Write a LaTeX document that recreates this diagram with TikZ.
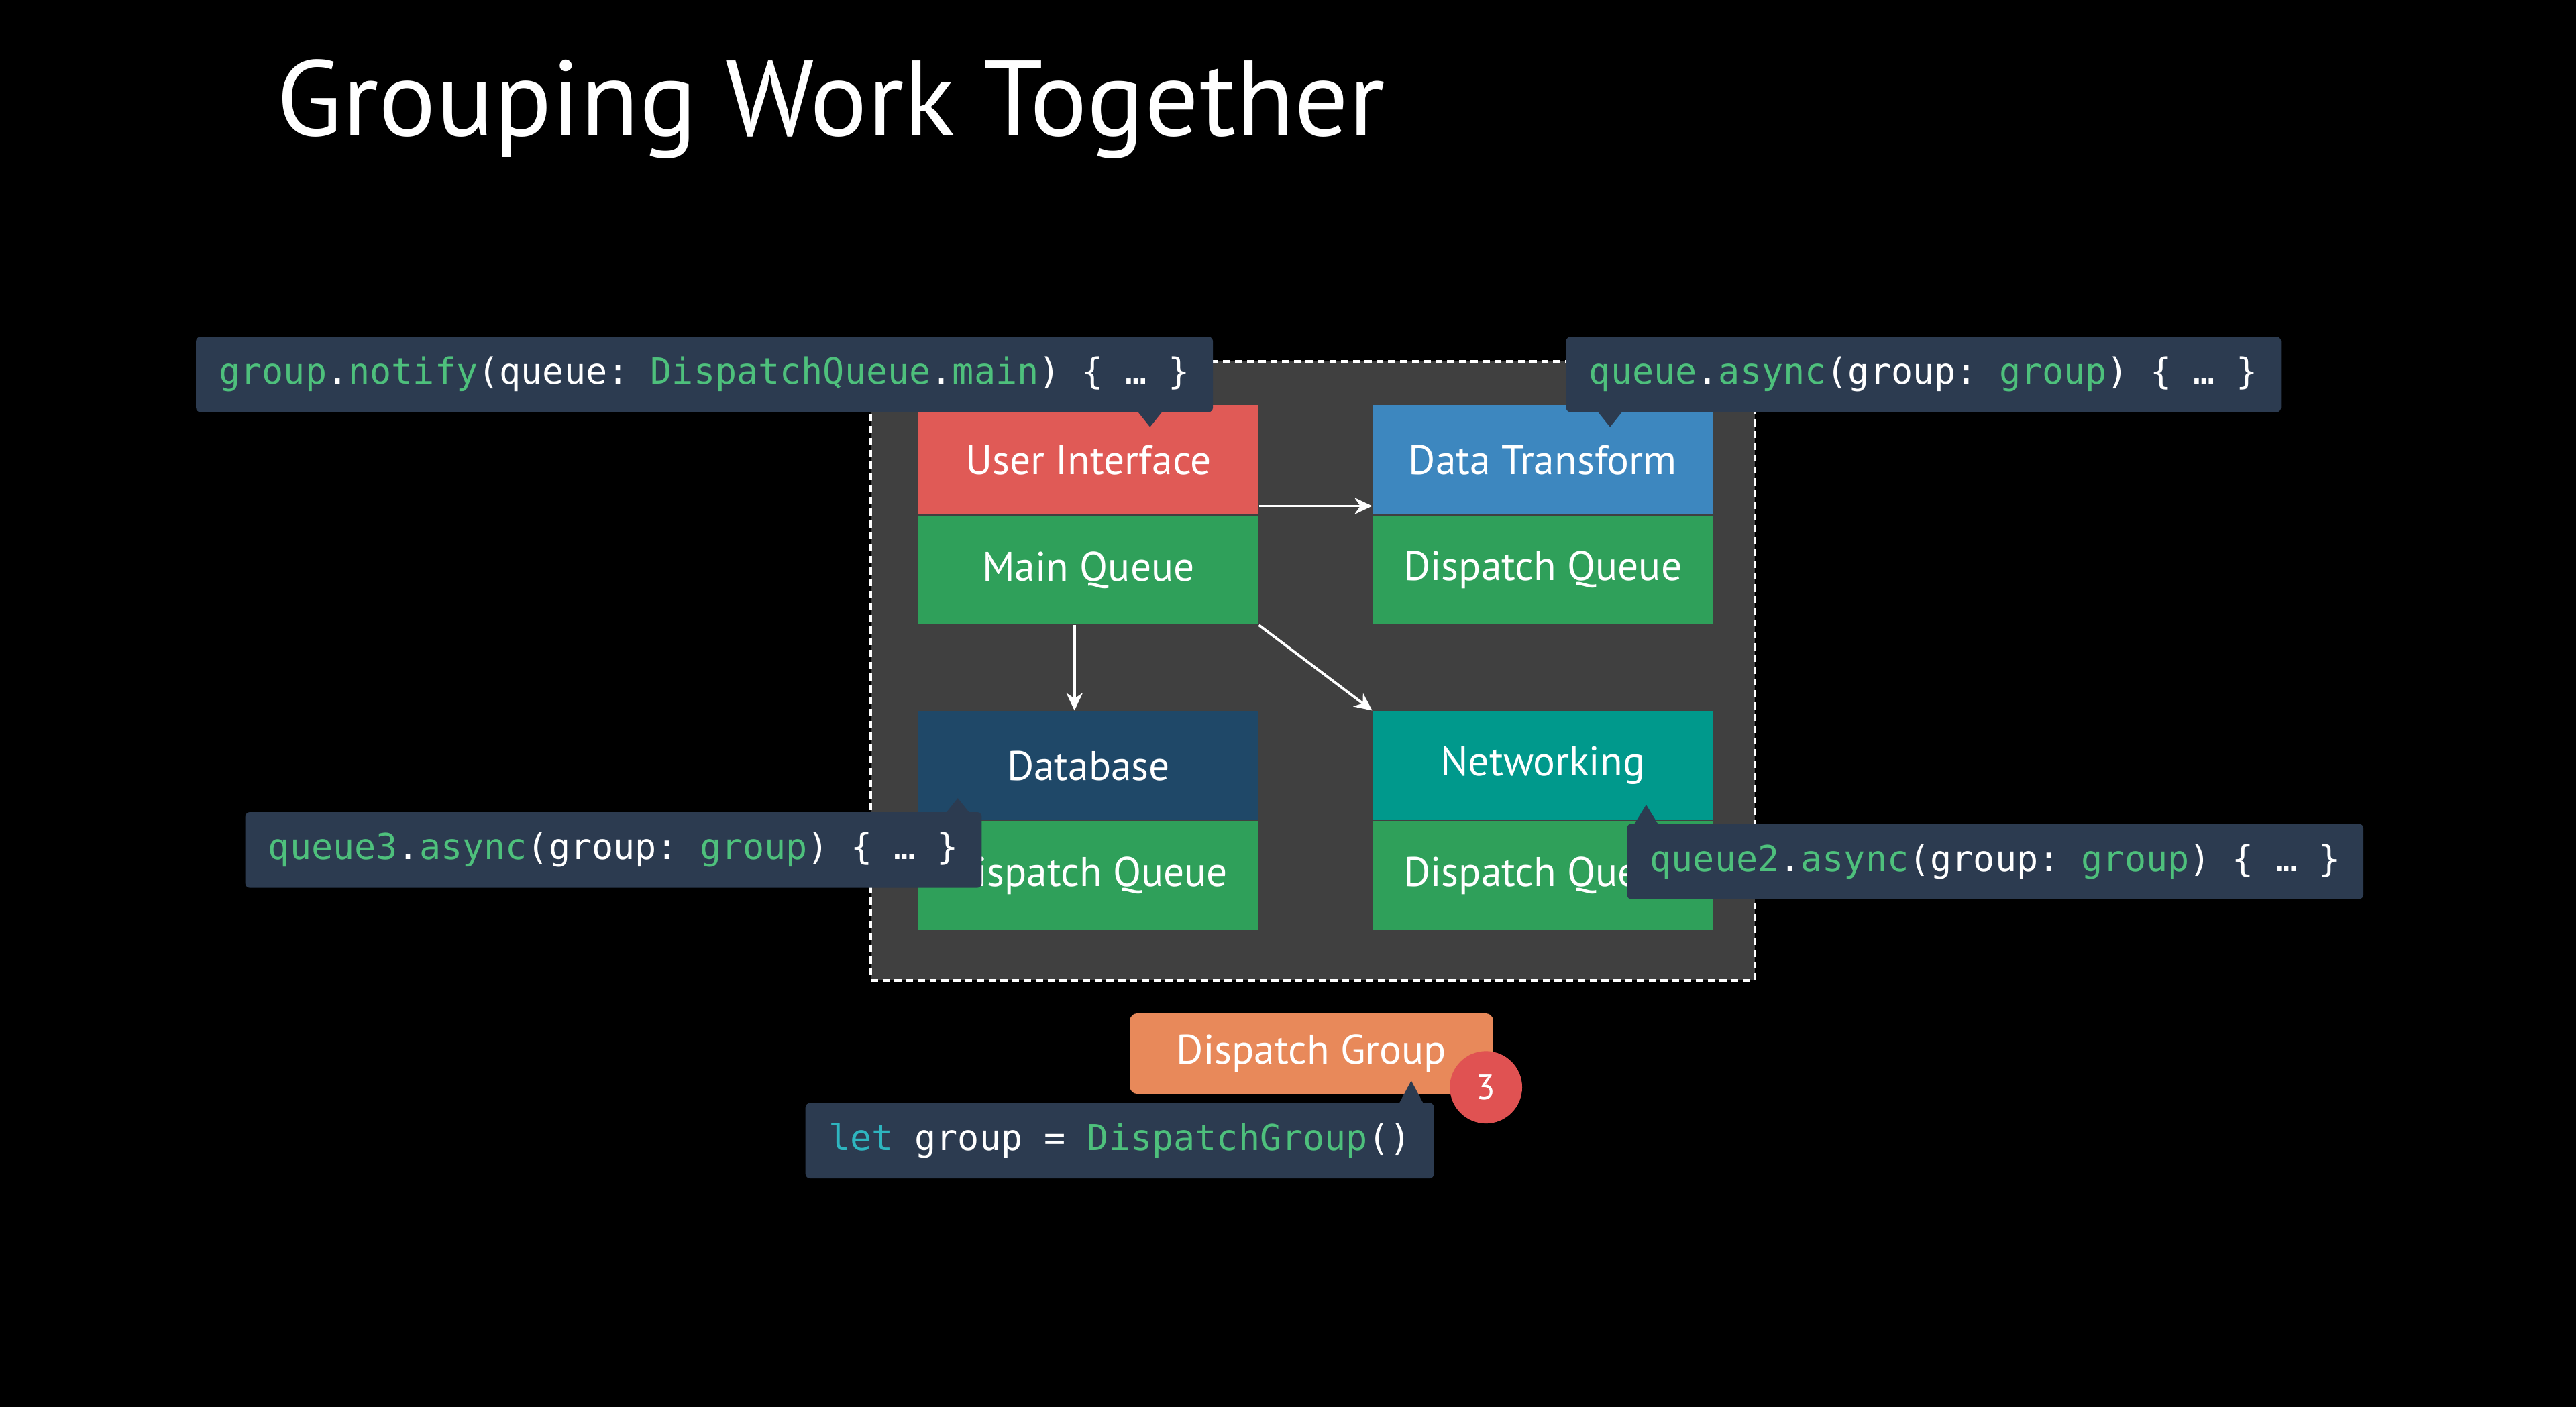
\documentclass[tikz,border=0pt]{standalone}
\usepackage{fontspec}
\setmainfont{PT Sans}
\newfontfamily\codefont{DejaVu Sans Mono}
\usetikzlibrary{positioning,arrows.meta}

\definecolor{uired}{HTML}{E05A56}
\definecolor{qgreen}{HTML}{2FA05A}
\definecolor{dtblue}{HTML}{3D87BF}
\definecolor{dbnavy}{HTML}{1F4868}
\definecolor{netteal}{HTML}{00998C}
\definecolor{slate}{HTML}{2C3B50}
\definecolor{boxgray}{HTML}{404040}
\definecolor{grouporange}{HTML}{E8895A}
\definecolor{badgered}{HTML}{E05252}
\definecolor{codegreen}{HTML}{4EC07C}
\definecolor{codeteal}{HTML}{2EB5BF}

\def\px{0.02449cm}
\newcommand\cg[1]{\textcolor{codegreen}{#1}}
\newcommand\ck[1]{\textcolor{codeteal}{#1}}

\begin{document}
\begin{tikzpicture}[x=\px,y=-\px,>={Stealth[length=7.5pt,width=7pt]}]
    \tikzstyle{lane}=[rectangle,minimum width=5.069cm,minimum height=1.629cm,inner sep=0pt,text=white,font=\fontsize{17.5}{20}\selectfont]
    \tikzstyle{callout}=[rectangle,fill=slate,rounded corners=2pt,minimum height=1.127cm,inner xsep=0.343cm,inner ysep=0pt,text=white,font=\codefont\fontsize{15.2}{18}\selectfont\frenchspacing,anchor=west]
    \tikzstyle{groupbox}=[rectangle,fill=boxgray,draw=white,line width=1.1pt,dash pattern=on 3pt off 2pt,minimum width=13.176cm,minimum height=9.233cm]
    \tikzstyle{flow}=[->,draw=white,line width=1.1pt]
    \tikzstyle{pointer}=[fill=slate]

    \fill[black] (0,0) rectangle (1568,856.67);
    \node[anchor=base west,inner sep=0pt,text=white,font=\fontsize{45.5}{50}\selectfont] (title) at (168,82.5) {Grouping Work Together};

    \node[groupbox] (grp) at (799,408.5) {};

    \node[lane,fill=uired] (ui) at (662.5,280) {User Interface};
    \node[lane,fill=qgreen,below=0pt of ui] (mainq) {Main Queue};
    \node[lane,fill=dtblue,right=1.69cm of ui] (dt) {Data Transform};
    \node[lane,fill=qgreen,below=0pt of dt] (dtq) {Dispatch Queue};
    \node[lane,fill=dbnavy,below=1.273cm of mainq] (db) {Database};
    \node[lane,fill=qgreen,below=0pt of db] (dbq) {Dispatch Queue};
    \node[lane,fill=netteal,right=1.69cm of db] (net) {Networking};
    \node[lane,fill=qgreen,below=0pt of net] (netq) {Dispatch Queue};

    \draw[flow] ([yshift=3.8pt]ui.south east) -- ([yshift=3.8pt]dt.south west);
    \draw[flow] ([xshift=-5.9pt]mainq.south) -- ([xshift=-5.9pt]db.north);
    \draw[flow] (mainq.south east) -- (net.north west);

    % code callouts
    \node[callout] (notify) at (119,228) {\cg{group}.\cg{notify}(queue: \cg{DispatchQueue}.\cg{main}) \{ … \}};
    \fill[pointer] (692,250) -- (700,260) -- (708,250) -- cycle;
    \node[callout] (async) at (953,228) {\cg{queue}.\cg{async}(group: \cg{group}) \{ … \}};
    \fill[pointer] (972,250) -- (980,260) -- (988,250) -- cycle;
    \node[callout] (async3) at (149,517.5) {\cg{queue3}.\cg{async}(group: \cg{group}) \{ … \}};
    \fill[pointer] (575,496) -- (583,486) -- (591,496) -- cycle;
    \node[callout] (async2) at (990,524.5) {\cg{queue2}.\cg{async}(group: \cg{group}) \{ … \}};
    \fill[pointer] (994,503) -- (1002,490) -- (1010,503) -- cycle;

    \node[rectangle,fill=grouporange,rounded corners=3pt,minimum width=5.412cm,minimum height=1.2cm,text=white,font=\fontsize{17.5}{20}\selectfont] (group) at (798.3,641.5) {Dispatch Group};
    \node[callout] (letgroup) at (490,694.5) {\ck{let} group = \cg{DispatchGroup}()};
    \fill[pointer] (851,673) -- (859,658) -- (867,673) -- cycle;
    \node[circle,fill=badgered,minimum size=1.078cm,inner sep=0pt,text=white,font=\fontsize{15}{18}\selectfont] (count) at (904.5,662) {3};
\end{tikzpicture}
\end{document}
